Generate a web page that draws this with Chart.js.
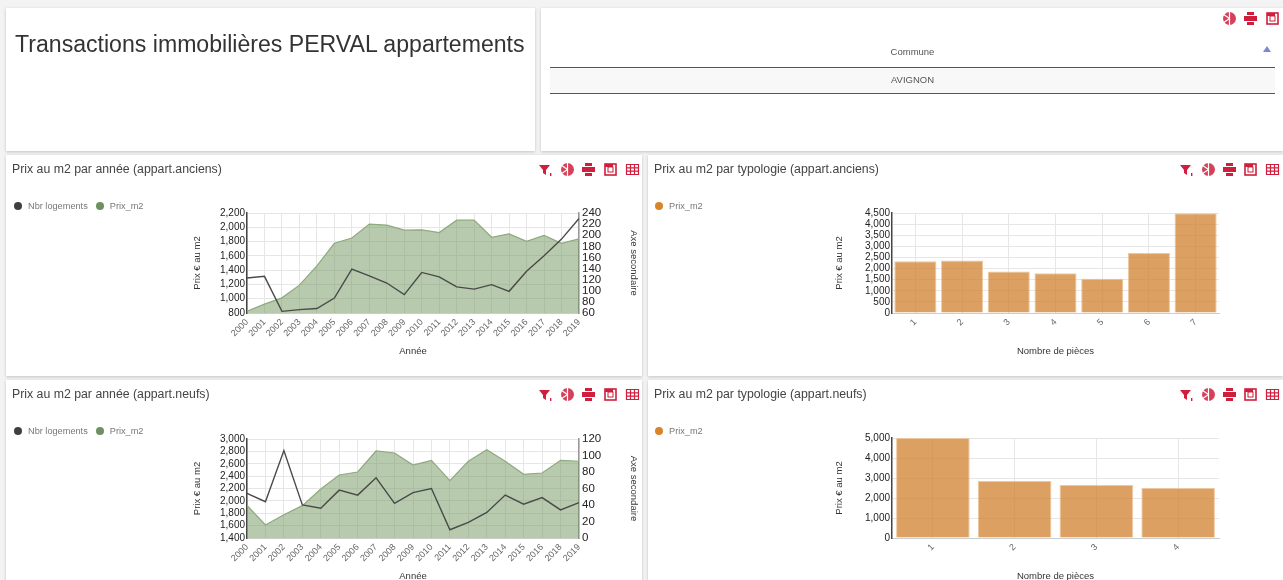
<!DOCTYPE html>
<html>
<head>
<meta charset="utf-8">
<script src="https://cdn.jsdelivr.net/npm/chart.js@4/dist/chart.umd.min.js"></script>
<style>
html, body { margin: 0; width: 1283px; height: 580px; overflow: hidden; background: #f3f3f3; font-family: "Liberation Sans", Arial, sans-serif; }
.panel { position: absolute; background: #fff; box-shadow: 0 1px 3px rgba(0,0,0,.2); filter: blur(.4px); }
.panel canvas { position: absolute; left: 0; top: 0; }
.panel-title { position: absolute; left: 6px; top: 7px; font-size: 12.3px; color: #444; white-space: nowrap; }
.legend { position: absolute; top: 46px; font-size: 9.2px; color: #777; white-space: nowrap; }
.legend span { display: inline-block; margin-right: 8px; }
.legend i { display: inline-block; width: 8px; height: 8px; border-radius: 50%; margin-right: 6px; vertical-align: -1px; }
#main-title { position: absolute; left: 9px; top: 23px; font-size: 23.1px; color: #333; white-space: nowrap; }
#table-head { position: absolute; left: 9px; top: 38px; width: 725px; height: 21px; line-height: 12px; text-align: center; font-size: 9.5px; color: #555; border-bottom: 1px solid #555; }
#table-row { position: absolute; left: 9px; top: 60px; width: 725px; height: 25px; line-height: 23px; text-align: center; font-size: 9.5px; color: #555; background: #f8f8f8; border-bottom: 1px solid #555; }
#sort-arrow { position: absolute; left: 722px; top: 38px; width: 0; height: 0; border-left: 4px solid transparent; border-right: 4px solid transparent; border-bottom: 6px solid #7f86d6; }
</style>
</head>
<body>
<div class="panel" style="left:6px;top:8px;width:529px;height:143px"><div id="main-title">Transactions immobilières PERVAL appartements</div></div>
<div class="panel" id="commune" style="left:541px;top:8px;width:742px;height:143px">
  <div id="table-head">Commune</div><div id="sort-arrow"></div><div id="table-row">AVIGNON</div>
</div>
<div class="panel" id="p1" style="left:6px;top:155px;width:636px;height:221px"><canvas id="c1" width="636" height="221"></canvas></div>
<div class="panel" id="p2" style="left:648px;top:155px;width:635px;height:221px"><canvas id="c2" width="635" height="221"></canvas></div>
<div class="panel" id="p3" style="left:6px;top:380px;width:636px;height:221px"><canvas id="c3" width="636" height="221"></canvas></div>
<div class="panel" id="p4" style="left:648px;top:380px;width:635px;height:221px"><canvas id="c4" width="635" height="221"></canvas></div>
<script>
'use strict'
const yearsAnciens = ['2000','2001','2002','2003','2004','2005','2006','2007','2008','2009','2010','2011','2012','2013','2014','2015','2016','2017','2018','2019'];
const prixAnciens = [824,925,1012,1190,1460,1776,1850,2045,2030,1960,1965,1927,2100,2100,1860,1908,1804,1885,1776,1837];
const nbrAnciens = [123,126,63,66,68,87,139,127,114,93,133,125,107,103,111,99,135,163,193,230];

const yearsNeufs = ['2000','2001','2002','2003','2004','2005','2006','2007','2008','2009','2010','2011','2012','2013','2014','2015','2016','2018','2019'];
const prixNeufs = [1928,1610,1777,1923,2192,2418,2467,2806,2774,2580,2655,2327,2640,2828,2640,2430,2450,2655,2640];
const nbrNeufs = [54,44,106,40,36,58,52,73,42,55,60,10,19,31,52,41,49,34,43];

const piecesAnciens = ['1','2','3','4','5','6','7'];
const typoAnciens = [2333,2364,1864,1788,1545,2697,4485];
const piecesNeufs = ['1','2','3','4'];
const typoNeufs = [5000,2850,2650,2500];

const RED = '#cf1f3c';
const GRID = '#e6e6e6';
const xTickFont = { size: 9, family: '"Liberation Sans"' };
const leftTickFont = { size: 10, family: '"Liberation Sans"' };
const rightTickFont = { size: 11.5, family: '"Liberation Sans"' };
const titleFont = { size: 9.5, family: '"Liberation Sans"' };

function fixedWidth(w) { return s => { s.width = w; }; }
function fixedHeight(h) { return s => { s.height = h; }; }
function axisTitle(text) { return { display: true, text: text, color: '#333', font: titleFont, padding: 0 }; }

function xAxis(title, offset) {
    return {
        grid: { color: GRID, offset: false, drawTicks: false },
        border: { color: '#ccc' },
        offset: offset,
        ticks: { minRotation: 45, maxRotation: 45, autoSkip: false, color: '#666', font: xTickFont, padding: 4 },
        title: axisTitle(title),
        afterFit: fixedHeight(44)
    };
}

function leftAxis(min, max, step, width) {
    return {
        position: 'left', min: min, max: max,
        grid: { color: GRID, drawTicks: false },
        border: { color: '#444', width: 1.5 },
        ticks: { stepSize: step, autoSkip: false, color: '#222', font: leftTickFont, padding: 2, callback: v => v.toLocaleString('en-US') },
        title: axisTitle('Prix € au m2'),
        afterFit: fixedWidth(width)
    };
}

function yearChart(id, years, prix, nbr, yMin, yMax, yStep, y2Min, y2Max, y2Step, top) {
    new Chart(document.getElementById(id), {
        type: 'line',
        data: {
            labels: years,
            datasets: [
                { label: 'Nbr logements', data: nbr, yAxisID: 'y2', borderColor: '#4a4a4a', borderWidth: 1.4, pointRadius: 0, tension: 0, fill: false, order: 1 },
                { label: 'Prix_m2', data: prix, yAxisID: 'y', borderColor: '#8eaa7e', backgroundColor: 'rgba(112,150,92,.5)', borderWidth: 1.2, pointRadius: 0, tension: 0, fill: 'start', order: 2 }
            ]
        },
        options: {
            responsive: false, animation: false,
            layout: { padding: { left: 186, right: 3, top: top, bottom: 19 } },
            plugins: { legend: { display: false }, tooltip: { enabled: false } },
            scales: {
                x: xAxis('Année', false),
                y: leftAxis(yMin, yMax, yStep, 55),
                y2: {
                    position: 'right', min: y2Min, max: y2Max,
                    grid: { drawOnChartArea: false, drawTicks: false },
                    border: { color: '#999', width: 1.5 },
                    ticks: { stepSize: y2Step, autoSkip: false, color: '#222', font: rightTickFont, padding: 3 },
                    title: axisTitle('Axe secondaire'),
                    afterFit: fixedWidth(60)
                }
            }
        }
    });
}

function typoChart(id, pieces, values, yMax, yStep) {
    new Chart(document.getElementById(id), {
        type: 'bar',
        data: {
            labels: pieces,
            datasets: [{ label: 'Prix_m2', data: values, backgroundColor: 'rgba(208,128,45,.75)', borderColor: 'rgba(235,195,150,.9)', borderWidth: 1, barPercentage: .9, categoryPercentage: 1 }]
        },
        options: {
            responsive: false, animation: false,
            layout: { padding: { left: 186, right: 64, top: 58, bottom: 19 } },
            plugins: { legend: { display: false }, tooltip: { enabled: false } },
            scales: {
                x: xAxis('Nombre de pièces', true),
                y: leftAxis(0, yMax, yStep, 58)
            }
        }
    });
}

function addLegend(panelId, left, items) {
    const box = document.createElement('div');
    box.className = 'legend';
    box.style.left = left + 'px';
    items.forEach(item => {
        box.innerHTML += '<span><i style="background:' + item[1] + '"></i>' + item[0] + '</span>';
    });
    document.getElementById(panelId).appendChild(box);
}

const iconShapes = {
    filter: '<path d="M1 3h11L8 8v5L5 11V8z" fill="' + RED + '"/><rect x="12" y="11" width="1.4" height="3" fill="' + RED + '"/>',
    pie: '<circle cx="7.5" cy="7.5" r="6.5" fill="' + RED + '" opacity=".85"/><path d="M7.5 0v15M7.5 7.5L1 3M7.5 7.5L1 12" stroke="#fff" stroke-width="1.2"/>',
    print: '<rect x="4" y="1" width="7" height="3" fill="' + RED + '"/><rect x="1" y="5" width="13" height="5" fill="' + RED + '"/><rect x="4" y="11" width="7" height="3" fill="' + RED + '"/>',
    window: '<rect x="2" y="2" width="11" height="11" fill="none" stroke="' + RED + '" stroke-width="1.6"/><rect x="2" y="2" width="8" height="3" fill="' + RED + '"/><rect x="5" y="5" width="5" height="5" fill="none" stroke="' + RED + '"/>',
    table: '<path d="M1.5 2.5h12v10h-12zM1.5 5.8h12M1.5 9.2h12M5.5 2.5v10M9.5 2.5v10" fill="none" stroke="' + RED + '" stroke-width="1.2"/>'
};

function addIcons(panelId, names, xs, y) {
    const panel = document.getElementById(panelId);
    names.forEach((name, i) => {
        panel.insertAdjacentHTML('beforeend', '<svg viewBox="0 0 15 15" style="position:absolute;width:15px;height:15px;left:' + (xs[i] - 7) + 'px;top:' + (y - 7) + 'px">' + iconShapes[name] + '</svg>');
    });
}

function addTitle(panelId, text) {
    document.getElementById(panelId).insertAdjacentHTML('beforeend', '<div class="panel-title">' + text + '</div>');
}

yearChart('c1', yearsAnciens, prixAnciens, nbrAnciens, 800, 2200, 200, 60, 240, 20, 58);
yearChart('c3', yearsNeufs, prixNeufs, nbrNeufs, 1400, 3000, 200, 0, 120, 20, 59);
typoChart('c2', piecesAnciens, typoAnciens, 4500, 500);
typoChart('c4', piecesNeufs, typoNeufs, 5000, 1000);

addTitle('p1', 'Prix au m2 par année (appart.anciens)');
addTitle('p2', 'Prix au m2 par typologie (appart.anciens)');
addTitle('p3', 'Prix au m2 par année (appart.neufs)');
addTitle('p4', 'Prix au m2 par typologie (appart.neufs)');

const legendYear = [['Nbr logements', '#3f3f3f'], ['Prix_m2', '#6d9160']];
const legendTypo = [['Prix_m2', '#d8842c']];
addLegend('p1', 8, legendYear);
addLegend('p3', 8, legendYear);
addLegend('p2', 7, legendTypo);
addLegend('p4', 7, legendTypo);

const allIcons = ['filter', 'pie', 'print', 'window', 'table'];
addIcons('p1', allIcons, [539, 561, 582, 604, 626], 14);
addIcons('p3', allIcons, [539, 561, 582, 604, 626], 14);
addIcons('p2', allIcons, [538, 560, 581, 602, 624], 14);
addIcons('p4', allIcons, [538, 560, 581, 602, 624], 14);
addIcons('commune', ['pie', 'print', 'window'], [688, 709, 731], 10);
</script>
</body>
</html>
